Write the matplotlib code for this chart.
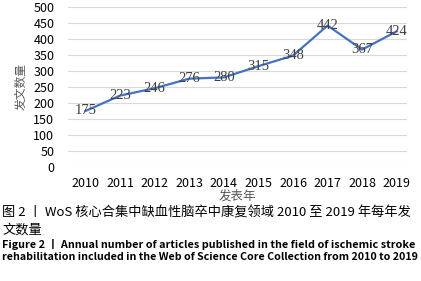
import matplotlib.pyplot as plt

plt.rcParams['font.family'] = ['Noto Sans CJK SC', 'DejaVu Sans']

# Data
years = ['2010', '2011', '2012', '2013', '2014', '2015', '2016', '2017', '2018', '2019']
counts = [175, 223, 246, 276, 280, 315, 348, 442, 367, 424]
y_ticks = [0, 50, 100, 150, 200, 250, 300, 350, 400, 450, 500]

fig = plt.figure(figsize=(4.21, 2.81), dpi=100)
ax = fig.add_axes([0.162, 0.406, 0.805, 0.569])

x = list(range(len(years)))
ax.plot(x, counts, color='#4472C4', linewidth=1.6, zorder=3)
for xi, v in zip(x, counts):
    ax.text(xi, v, str(v), ha='center', va='center', fontsize=10.5,
            family='Liberation Serif', color='#404040', zorder=4)

ax.set_xlim(-0.5, 9.3)
ax.set_ylim(0, 500)
ax.set_yticks(y_ticks)
ax.set_xticks(x)
ax.set_xticklabels(years)
ax.tick_params(axis='both', length=0, labelsize=9, colors='#000000')
ax.tick_params(axis='x', pad=7)
ax.tick_params(axis='y', pad=10)
ax.grid(axis='y', color='#D9D9D9', linewidth=0.8)
for s in ax.spines.values():
    s.set_visible(False)
ax.set_ylabel('发文数量', fontsize=8.5, color='#595959', labelpad=4)
ax.set_xlabel('发表年', fontsize=9, color='#595959', labelpad=0)

fig.text(0.005, 1 - 213 / 281, '图 2 丨 WoS 核心合集中缺血性脑卒中康复领域 2010 至 2019 年每年发',
         fontsize=9.5, va='center', ha='left')
fig.text(0.005, 1 - 230 / 281, '文数量', fontsize=9.5, va='center', ha='left')
fig.text(0.005, 1 - 244 / 281,
         'Figure 2 丨 Annual number of articles published in the field of ischemic stroke',
         fontsize=7.8, fontweight='bold', va='center', ha='left')
fig.text(0.005, 1 - 257 / 281,
         'rehabilitation included in the Web of Science Core Collection from 2010 to 2019',
         fontsize=7.7, fontweight='bold', va='center', ha='left')

fig.savefig('out.png', dpi=100)
